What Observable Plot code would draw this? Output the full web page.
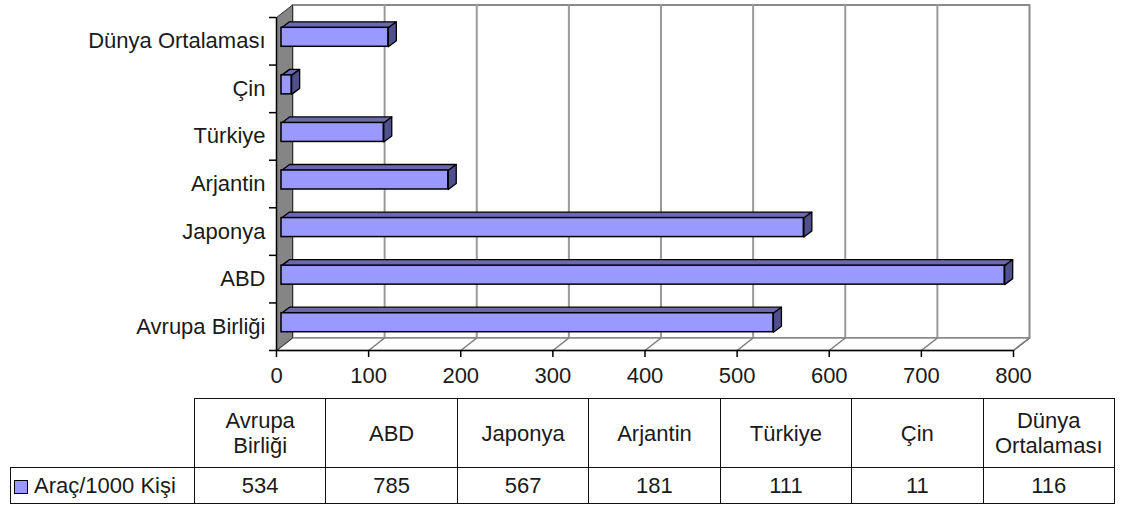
<!DOCTYPE html>
<html>
<head>
<meta charset="utf-8">
<script src="https://cdn.jsdelivr.net/npm/d3@7"></script>
<script src="https://cdn.jsdelivr.net/npm/@observablehq/plot@0.6"></script>
<style>
  html, body { margin: 0; padding: 0; background: #fff; }
  #wrap { position: relative; width: 1122px; height: 507px; font-family: "Liberation Sans", Arial, sans-serif; }
  #chart { position: absolute; left: 0; top: 0; }
  #tbl { position: absolute; left: 10px; top: 398px; }
  table { border-collapse: collapse; table-layout: fixed; font-size: 22px; color: #1a1a1a; }
  td { border: 1.5px solid #111; text-align: center; padding: 0; line-height: 25px; }
  td.empty { border-top: none; border-left: none; }
  td.leg { text-align: left; padding-left: 3px; white-space: nowrap; }
  .sw { display: inline-block; width: 12px; height: 12px; background: #9999ff; border: 1px solid #000; margin-right: 6px; vertical-align: -1px; }
</style>
</head>
<body>
<div id="wrap">
  <div id="chart"></div>
  <div id="tbl"></div>
</div>
<script>
// ---- data ----
const categories = ["Avrupa Birliği", "ABD", "Japonya", "Arjantin", "Türkiye", "Çin", "Dünya Ortalaması"];
const values = [534, 785, 567, 181, 111, 11, 116];
const tableHeaders = [["Avrupa", "Birliği"], ["ABD"], ["Japonya"], ["Arjantin"], ["Türkiye"], ["Çin"], ["Dünya", "Ortalaması"]];
const seriesName = "Araç/1000 Kişi";
const xTicks = [0, 100, 200, 300, 400, 500, 600, 700, 800];

// ---- geometry helpers (pixel -> data units) ----
const X0 = 276, X1 = 1013, YB = 350, YT = 17;
const KX = (X1 - X0) / 800, KY = (YB - YT) / categories.length;
const ux = p => p / KX, uy = p => p / KY;
const DX = ux(16), DY = uy(12.5);      // depth of the 3D box
const BX = ux(8), BY = uy(6);          // depth of each bar
const half = uy(9.5);                  // half thickness of a bar
const N = categories.length;

function poly(pts, k) { return [...pts, pts[0]].map(([x, y]) => ({x, y, k})); }

const bars = categories.map((c, i) => ({c, i, v: values[i]}));
const backWall = poly([[DX, DY], [800 + DX, DY], [800 + DX, N + DY], [DX, N + DY]], "bw");
const floor = poly([[0, 0], [800, 0], [800 + DX, DY], [DX, DY]], "fl");
const leftWall = poly([[0, 0], [DX, DY], [DX, N + DY], [0, N]], "lw");
const topFaces = bars.flatMap(b => {
  const yt = b.i + 0.5 + half;
  return poly([[0, yt], [b.v, yt], [b.v + BX, yt + BY], [BX, yt + BY]], "t" + b.i);
});
const rightFaces = bars.flatMap(b => {
  const yt = b.i + 0.5 + half, yb = b.i + 0.5 - half;
  return poly([[b.v, yb], [b.v, yt], [b.v + BX, yt + BY], [b.v + BX, yb + BY]], "r" + b.i);
});
const yBounds = d3.range(N + 1);

const plot = Plot.plot({
  width: 1122,
  height: 395,
  margin: 0,
  style: {fontFamily: "'Liberation Sans', Arial, sans-serif", fontSize: "22px", color: "#1a1a1a", background: "transparent"},
  x: {domain: [0, 800], range: [X0, X1], axis: null},
  y: {domain: [0, N], range: [YB, YT], axis: null},
  marks: [
    // back wall
    Plot.line(backWall, {x: "x", y: "y", z: "k", fill: "#fff", stroke: "#8a8a8a", strokeWidth: 2}),
    Plot.ruleX(xTicks.slice(1, -1), {x: d => d + DX, y1: DY, y2: N + DY, stroke: "#9a9a9a", strokeWidth: 2}),
    // floor
    Plot.line(floor, {x: "x", y: "y", z: "k", fill: "#fff", stroke: "#8a8a8a", strokeWidth: 1.5}),
    Plot.link(xTicks.slice(1), {x1: d => d, y1: 0, x2: d => d + DX, y2: DY, stroke: "#7a7a7a", strokeWidth: 1.5}),
    // left wall
    Plot.line(leftWall, {x: "x", y: "y", z: "k", fill: "#858585", stroke: "#333", strokeWidth: 1}),
    // bars
    Plot.line(topFaces, {x: "x", y: "y", z: "k", fill: "#6a6aae", stroke: "#000", strokeWidth: 1.3, dx: 5, dy: -4}),
    Plot.line(rightFaces, {x: "x", y: "y", z: "k", fill: "#50508f", stroke: "#000", strokeWidth: 1.3, dx: 5, dy: -4}),
    Plot.rect(bars, {x1: 0, x2: "v", y1: d => d.i + 0.5 - half, y2: d => d.i + 0.5 + half, fill: "#9999ff", stroke: "#000", strokeWidth: 1.5, dx: 5, dy: -4}),
    // front axes
    Plot.ruleY([0], {x1: 0, x2: 800, stroke: "#000", strokeWidth: 1.5}),
    Plot.ruleX([0], {y1: 0, y2: N, stroke: "#000", strokeWidth: 1.5}),
    Plot.ruleX(xTicks, {x: d => d, y1: 0, y2: -uy(7), stroke: "#000", strokeWidth: 1.5}),
    Plot.ruleY(yBounds, {y: d => d, x1: -ux(7), x2: 0, stroke: "#000", strokeWidth: 1.5}),
    // labels
    Plot.text(xTicks, {x: d => d, y: 0, dy: 25, text: d => String(d), fontSize: 22, fill: "#1a1a1a"}),
    Plot.text(bars, {x: 0, y: d => d.i + 0.5, text: "c", textAnchor: "end", dx: -11, fontSize: 22, fill: "#1a1a1a"})
  ]
});
document.getElementById("chart").appendChild(plot);

// ---- data table ----
const colW = (1104 - 184) / N;
let html = `<table style="width:1104px"><colgroup><col style="width:184px">` +
  categories.map(() => `<col style="width:${colW}px">`).join("") + `</colgroup>`;
html += `<tr style="height:69px"><td class="empty"></td>` +
  tableHeaders.map(h => `<td>${h.join("<br>")}</td>`).join("") + `</tr>`;
html += `<tr style="height:36px"><td class="leg"><span class="sw"></span>${seriesName}</td>` +
  values.map(v => `<td>${v}</td>`).join("") + `</tr></table>`;
document.getElementById("tbl").innerHTML = html;
</script>
</body>
</html>
